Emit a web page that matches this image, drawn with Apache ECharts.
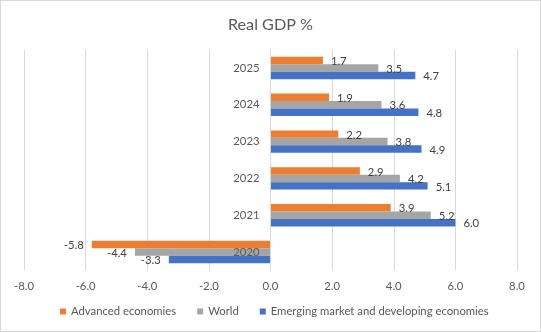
<!DOCTYPE html>
<html>
<head>
<meta charset="utf-8">
<script src="https://cdn.jsdelivr.net/npm/echarts@6/dist/echarts.min.js"></script>
<style>
html,body{margin:0;padding:0;background:#fff;}
#wrap{position:relative;width:541px;height:332px;}
#c{position:absolute;left:0;top:0;width:541px;height:332px;}
#b{position:absolute;left:0;top:0;width:541px;height:332px;box-sizing:border-box;border:1px solid #d9d9d9;pointer-events:none;}
</style>
</head>
<body>
<div id="wrap"><div id="c"></div><div id="b"></div></div>
<script>
const years = ['2020', '2021', '2022', '2023', '2024', '2025'];
const advanced = [-5.8, 3.9, 2.9, 2.2, 1.9, 1.7];
const world = [-4.4, 5.2, 4.2, 3.8, 3.6, 3.5];
const emerging = [-3.3, 6.0, 5.1, 4.9, 4.8, 4.7];
const xTicks = { min: -8, max: 8, step: 2 };
const seriesNames = ['Advanced economies', 'World', 'Emerging market and developing economies'];

const FONT = 'Lato, "Open Sans", sans-serif';
const FS = 11.3;
const GRID_L = 24, GRID_R = 24, W = 541;
const zeroOffset = -((W - GRID_L - GRID_R) * (0 - xTicks.min) / (xTicks.max - xTicks.min));

function mkLabel() {
  return {
    show: true,
    fontFamily: FONT,
    fontSize: FS,
    color: '#404040',
    distance: 8,
    offset: [0, 1],
    formatter: p => p.value.toFixed(1),
    position: 'right'
  };
}
function mkData(arr) {
  return arr.map(v => ({
    value: v,
    label: v < 0 ? { position: 'left' } : { position: 'right' }
  }));
}

const chart = echarts.init(document.getElementById('c'), null, { renderer: 'canvas' });
chart.setOption({
  animation: false,
  backgroundColor: '#fff',
  textStyle: { fontFamily: FONT },
  title: {
    text: 'Real GDP %',
    left: 'center',
    top: 12,
    textStyle: { fontFamily: FONT, fontSize: 16.2, fontWeight: 'normal', color: '#595959' }
  },
  legend: {
    data: seriesNames,
    left: 60,
    top: 306,
    padding: 0,
    icon: 'rect',
    itemWidth: 6,
    itemHeight: 6,
    itemGap: 21,
    textStyle: { fontFamily: FONT, fontSize: FS, color: '#595959' }
  },
  grid: { left: GRID_L, right: GRID_R, top: 49.6, bottom: 61.6, containLabel: false, outerBoundsMode: 'none' },
  xAxis: {
    type: 'value',
    min: xTicks.min,
    max: xTicks.max,
    interval: xTicks.step,
    axisLine: { show: false },
    axisTick: { show: false },
    axisLabel: {
      fontFamily: FONT, fontSize: FS, color: '#595959', margin: 10,
      formatter: v => v.toFixed(1)
    },
    splitLine: { show: true, lineStyle: { color: '#d9d9d9', width: 1 } }
  },
  yAxis: {
    type: 'category',
    data: years,
    z: 10,
    position: 'left',
    offset: zeroOffset,
    axisLine: { show: true, onZero: false, lineStyle: { color: '#d9d9d9' } },
    axisTick: { show: false },
    axisLabel: { fontFamily: FONT, fontSize: FS, color: '#595959', margin: 11 },
    splitLine: { show: false }
  },
  series: [
    { name: seriesNames[0], type: 'bar', data: mkData(advanced), itemStyle: { color: '#ED7D31' }, label: mkLabel(), barGap: '0%', barCategoryGap: '39%' },
    { name: seriesNames[1], type: 'bar', data: mkData(world), itemStyle: { color: '#A5A5A5' }, label: mkLabel(), barGap: '0%', barCategoryGap: '39%' },
    { name: seriesNames[2], type: 'bar', data: mkData(emerging), itemStyle: { color: '#4472C4' }, label: mkLabel(), barGap: '0%', barCategoryGap: '39%' }
  ]
});
</script>
</body>
</html>
